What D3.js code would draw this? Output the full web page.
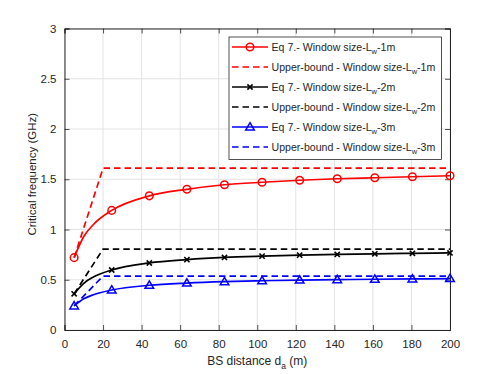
<!DOCTYPE html>
<html>
<head>
<meta charset="utf-8">
<script src="https://cdn.jsdelivr.net/npm/d3@7"></script>
<style>
  html, body { margin: 0; padding: 0; background: #fff; }
  svg { display: block; }
  text { font-family: "Liberation Sans", Arial, Helvetica, sans-serif; fill: #262626; }
</style>
</head>
<body>
<svg id="chart" width="498" height="374"></svg>
<script>
// ---- data ----
const curveDist = [5, 10, 15, 24.5, 44, 63.5, 83, 102.5, 122, 141.5, 161, 180.5, 200];
const markerDist = [5, 24.5, 44, 63.5, 83, 102.5, 122, 141.5, 161, 180.5, 200];
const eq7Lw1 = [0.72, 0.93, 1.05, 1.19, 1.335, 1.40, 1.445, 1.47, 1.49, 1.505, 1.515, 1.525, 1.535];
const eq7Lw2 = [0.36, 0.465, 0.527, 0.597, 0.667, 0.70, 0.722, 0.735, 0.745, 0.752, 0.758, 0.763, 0.767];
const eq7Lw3 = [0.24, 0.31, 0.351, 0.398, 0.445, 0.467, 0.481, 0.49, 0.497, 0.501, 0.505, 0.508, 0.512];
const ubDist = [5, 20, 200];
const ubLw1 = [0.72, 1.61, 1.61];
const ubLw2 = [0.36, 0.805, 0.805];
const ubLw3 = [0.24, 0.537, 0.537];
const xTicks = [0, 20, 40, 60, 80, 100, 120, 140, 160, 180, 200];
const yTicks = [0, 0.5, 1, 1.5, 2, 2.5, 3];
const yTickLabels = ["0", "0.5", "1", "1.5", "2", "2.5", "3"];
const seriesNames = ["1m", "2m", "3m"];

// ---- layout ----
const svg = d3.select("#chart");
const L = 64.5, R = 450, T = 28.5, B = 330;
const x = d3.scaleLinear().domain([0, 200]).range([L, R]);
const y = d3.scaleLinear().domain([0, 3]).range([B, T]);
const axisColor = "#262626";

// grid
const grid = svg.append("g");
grid.selectAll("line.gx").data(xTicks).join("line")
  .attr("x1", d => x(d)).attr("x2", d => x(d)).attr("y1", T).attr("y2", B)
  .attr("stroke", "#e3e3e3").attr("stroke-width", 1);
grid.selectAll("line.gy").data(yTicks).join("line")
  .attr("y1", d => y(d)).attr("y2", d => y(d)).attr("x1", L).attr("x2", R)
  .attr("stroke", "#e3e3e3").attr("stroke-width", 1);

// axes (ticks inside)
const xAxisB = d3.axisBottom(x).tickValues(xTicks).tickSize(-5).tickPadding(10).tickFormat(d3.format("d"));
const xAxisT = d3.axisTop(x).tickValues(xTicks).tickSize(-5).tickFormat("");
const yAxisL = d3.axisLeft(y).tickValues(yTicks).tickSize(-5).tickPadding(8).tickFormat((d, i) => yTickLabels[i]);
const yAxisR = d3.axisRight(y).tickValues(yTicks).tickSize(-5).tickFormat("");

function styleAxis(g) {
  g.select(".domain").attr("stroke", axisColor).attr("stroke-width", 1);
  g.selectAll(".tick line").attr("stroke", axisColor).attr("stroke-width", 0.8);
  g.selectAll(".tick text").attr("fill", axisColor).style("font-size", "11.5px")
    .style("font-family", '"Liberation Sans", Arial, sans-serif');
}
svg.append("g").attr("transform", `translate(0,${B})`).call(xAxisB).call(styleAxis);
svg.append("g").attr("transform", `translate(0,${T})`).call(xAxisT).call(styleAxis);
svg.append("g").attr("transform", `translate(${L},0)`).call(yAxisL).call(styleAxis);
svg.append("g").attr("transform", `translate(${R},0)`).call(yAxisR).call(styleAxis);

// axis labels
const xl = svg.append("text").attr("x", (L + R) / 2).attr("y", 365)
  .attr("text-anchor", "middle").style("font-size", "12px");
xl.append("tspan").text("BS distance d");
xl.append("tspan").attr("dy", 3.5).style("font-size", "8.5px").text("a");
xl.append("tspan").attr("dy", -3.5).text(" (m)");

svg.append("text")
  .attr("transform", `translate(36,${(T + B) / 2 - 5}) rotate(-90)`)
  .attr("text-anchor", "middle").style("font-size", "11.5px")
  .text("Critical frequency (GHz)");

// ---- series ----
const colors = ["#ff0000", "#000000", "#0000ff"];
const eqSets = [eq7Lw1, eq7Lw2, eq7Lw3];
const ubSets = [ubLw1, ubLw2, ubLw3];
const lineW = 1.7;
const dash = "6.5,4";

const lineGen = d3.line().x(d => x(d[0])).y(d => y(d[1])).curve(d3.curveMonotoneX);
const lineStraight = d3.line().x(d => x(d[0])).y(d => y(d[1]));

function drawMarker(g, kind, cx, cy, color) {
  if (kind === 0) {
    g.append("circle").attr("cx", cx).attr("cy", cy).attr("r", 3.8)
      .attr("fill", "none").attr("stroke", color).attr("stroke-width", 1.5);
  } else if (kind === 1) {
    const s = 2.6;
    g.append("path").attr("d", `M${cx - s},${cy - s}L${cx + s},${cy + s}M${cx - s},${cy + s}L${cx + s},${cy - s}`)
      .attr("stroke", color).attr("stroke-width", 1.6).attr("fill", "none");
  } else {
    const w = 4.3, h = 4.3;
    g.append("path").attr("d", `M${cx},${cy - h}L${cx + w},${cy + h * 0.7}L${cx - w},${cy + h * 0.7}Z`)
      .attr("stroke", color).attr("stroke-width", 1.5).attr("fill", "none");
  }
}

const plotG = svg.append("g");
for (let s = 0; s < 3; s++) {
  const eq = eqSets[s], ub = ubSets[s], c = colors[s];
  plotG.append("path").datum(ubDist.map((d, i) => [d, ub[i]]))
    .attr("d", lineStraight).attr("fill", "none").attr("stroke", c)
    .attr("stroke-width", lineW).attr("stroke-dasharray", dash);
  plotG.append("path").datum(curveDist.map((d, i) => [d, eq[i]]))
    .attr("d", lineGen).attr("fill", "none").attr("stroke", c).attr("stroke-width", lineW);
}
for (let s = 0; s < 3; s++) {
  const eq = eqSets[s], c = colors[s];
  curveDist.forEach((d, i) => {
    if (markerDist.includes(d)) drawMarker(plotG, s, x(d), y(eq[i]), c);
  });
}

// ---- legend ----
const lg = svg.append("g");
const lx0 = 229, ly0 = 37, lw = 212.5, lh = 122.5;
lg.append("rect").attr("x", lx0).attr("y", ly0).attr("width", lw).attr("height", lh)
  .attr("fill", "#fff").attr("stroke", axisColor).attr("stroke-width", 0.8);
for (let s = 0; s < 3; s++) {
  for (let k = 0; k < 2; k++) {
    const row = s * 2 + k;
    const cy = 47 + row * 20;
    const c = colors[s];
    const ln = lg.append("line").attr("x1", 232).attr("x2", 268).attr("y1", cy).attr("y2", cy)
      .attr("stroke", c).attr("stroke-width", lineW);
    if (k === 1) ln.attr("stroke-dasharray", dash);
    else drawMarker(lg, s, 250, cy, c);
    const t = lg.append("text").attr("x", 271.5).attr("y", cy + 3.8).style("font-size", "10.6px");
    t.append("tspan").text(k === 0 ? "Eq 7.- Window size-L" : "Upper-bound - Window size-L");
    t.append("tspan").attr("dy", 3.5).style("font-size", "7.5px").text("w");
    t.append("tspan").attr("dy", -3.5).text("-" + seriesNames[s]);
  }
}
</script>
</body>
</html>
